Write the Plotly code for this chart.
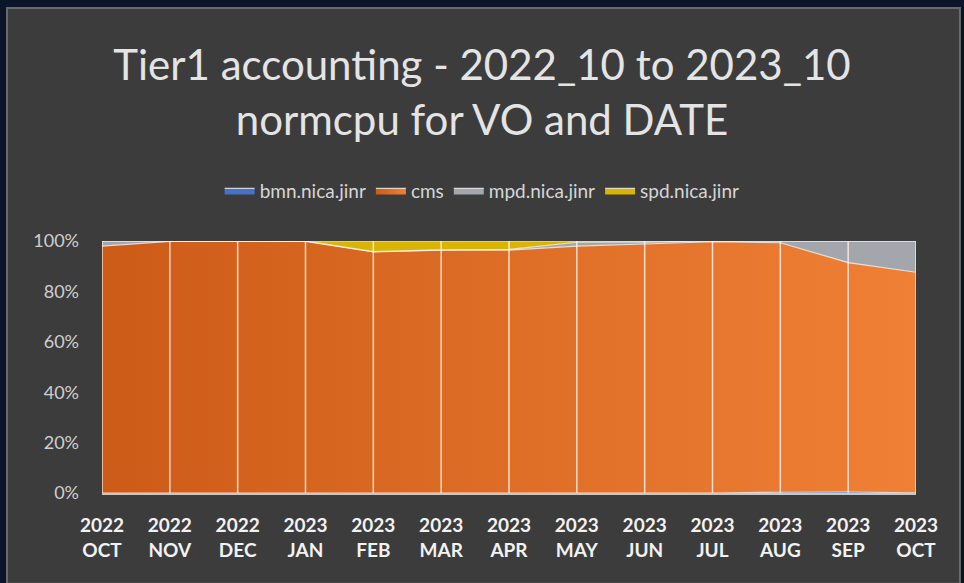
import plotly.graph_objects as go

years = ["2022", "2022", "2022", "2023", "2023", "2023", "2023", "2023", "2023", "2023", "2023", "2023", "2023"]
months = ["OCT", "NOV", "DEC", "JAN", "FEB", "MAR", "APR", "MAY", "JUN", "JUL", "AUG", "SEP", "OCT"]
categories = [f"{y}<br>{m}" for y, m in zip(years, months)]

bmn = [0.0, 0.0, 0.0, 0.0, 0.0, 0.0, 0.0, 0.0, 0.0, 0.0, 0.3, 0.4, 0.1]
cms = [98.0, 99.8, 99.8, 99.8, 95.7, 96.4, 96.4, 98.0, 98.8, 99.7, 99.0, 91.0, 87.5]
mpd = [2.0, 0.2, 0.2, 0.2, 0.1, 0.1, 0.3, 1.5, 0.8, 0.3, 0.7, 8.6, 12.4]
spd = [0.0, 0.0, 0.0, 0.0, 4.2, 3.5, 3.3, 0.5, 0.4, 0.0, 0.0, 0.0, 0.0]

series = [
    ("bmn.nica.jinr", bmn, "#4472C4", None),
    ("cms", cms, "#E46E26", dict(type="horizontal", colorscale=[[0, "#CD5B18"], [1, "#EF8035"]])),
    ("mpd.nica.jinr", mpd, "#A3A7AB", None),
    ("spd.nica.jinr", spd, "#D9B400", None),
]

fig = go.Figure()
for name, vals, col, grad in series:
    kw = dict(
        x=categories, y=vals, name=name, mode="lines",
        stackgroup="one", groupnorm="percent",
        line=dict(color="rgba(255,255,255,0.75)", width=1.2),
        fillcolor=col,
    )
    if grad is not None:
        kw["fillgradient"] = grad
    fig.add_trace(go.Scatter(**kw))

shapes = [
    dict(type="rect", xref="paper", yref="paper", x0=-0.1167, x1=1.054, y0=-0.36, y1=1.925,
         fillcolor="#3c3c3c", line=dict(color="#6a6a6a", width=2), layer="below"),
]
for c in categories:
    shapes.append(dict(type="line", xref="x", yref="y", x0=c, x1=c, y0=0, y1=100,
                       line=dict(color="rgba(255,240,230,0.85)", width=1.5), layer="above"))

fig.update_layout(
    width=964, height=583,
    margin=dict(l=102, r=48, t=241, b=90),
    paper_bgcolor="#0b1428",
    plot_bgcolor="rgba(0,0,0,0)",
    shapes=shapes,
    title=dict(
        text="Tier1 accounting - 2022_10 to 2023_10<br>normcpu for VO and DATE",
        x=0.5, xanchor="center", y=0.862, yanchor="middle",
        font=dict(family="Lato", size=42, color="#e4e4e4"),
    ),
    legend=dict(
        orientation="h", x=0.467, xanchor="center", y=1.2, yanchor="middle",
        font=dict(family="Lato", size=19, color="#d6d6d6"),
        traceorder="normal", bgcolor="rgba(0,0,0,0)",
    ),
    showlegend=True,
    xaxis=dict(
        type="category", range=[0, 12], showgrid=False, zeroline=False,
        showline=True, linecolor="#c8c8c8", linewidth=2,
        tickfont=dict(family="Lato", size=19, color="#f2f2f2", weight="bold"),
        ticks="", ticklabelstandoff=14,
    ),
    yaxis=dict(
        range=[0, 100], dtick=20, ticksuffix="%", showgrid=False, zeroline=False,
        showline=False,
        tickfont=dict(family="Lato", size=18, color="#cfcfcf"),
        ticks="", ticklabelstandoff=22,
    ),
)

fig.write_html(
    "out.html",
    config={"displayModeBar": False},
    post_script="document.body.style.margin='0';document.body.style.background='#0b1428';",
)
